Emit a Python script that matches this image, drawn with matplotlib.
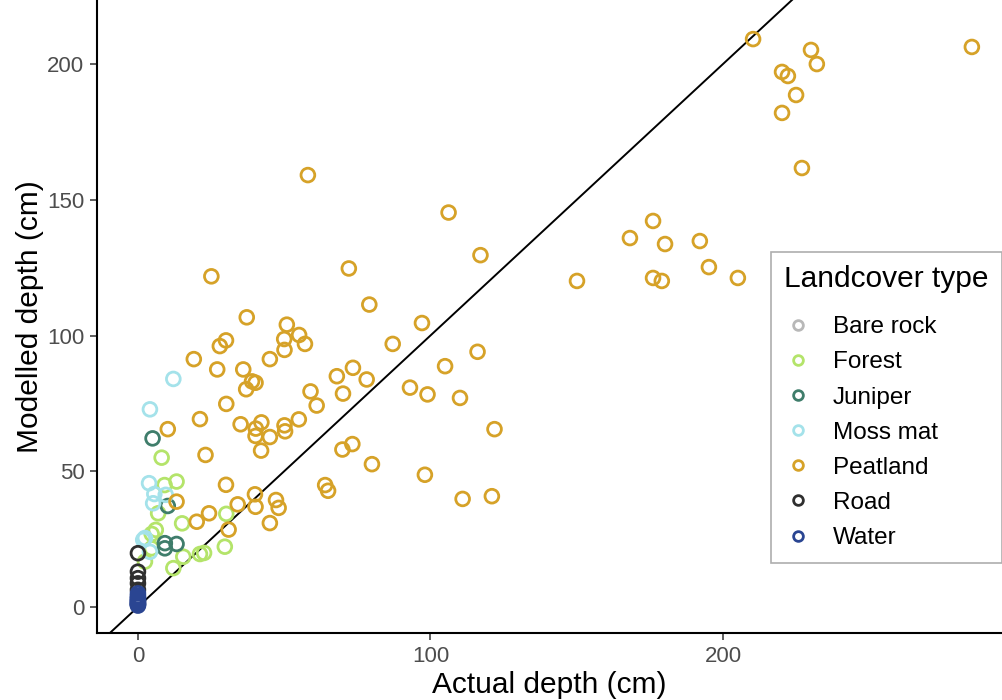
import matplotlib
matplotlib.use("Agg")
import matplotlib.pyplot as plt
from matplotlib.lines import Line2D

plt.rcParams['font.family'] = ['Liberation Sans', 'DejaVu Sans']

# actual vs modelled peat depth (cm), by landcover class
peat_actual = [210.3, 230.1, 232.1, 220.2, 222.2, 225.0, 220.2, 227.0, 285.1,
               176.1, 168.2, 180.2, 192.1, 195.2, 176.1, 179.1, 205.1, 150.1,
               58.1, 106.2, 117.1, 25.1, 72.1, 79.1, 37.2, 97.1, 50.9, 55.1,
               30.1, 28.0, 57.1, 50.0, 50.1, 19.1, 45.1, 87.1, 27.1, 36.0,
               39.0, 40.2, 37.0, 59.0, 61.1, 68.0, 73.5, 78.2, 70.1, 105.0,
               116.1, 93.0, 99.0, 110.1, 121.9, 30.2, 21.2, 35.1, 42.2, 40.3,
               40.2, 45.1, 50.1, 50.3, 55.0, 42.1, 23.1, 10.2, 69.9, 73.3,
               80.0, 98.1, 64.0, 65.0, 30.1, 40.0, 47.2, 48.1, 40.2, 34.1,
               24.3, 20.1, 31.0, 45.1, 111.0, 121.0, 13.2]
peat_model = [209.2, 205.2, 200.0, 197.1, 195.6, 188.6, 182.0, 161.7, 206.3,
              142.2, 135.9, 133.7, 134.8, 125.2, 121.2, 120.1, 121.2, 120.1,
              159.1, 145.3, 129.6, 121.8, 124.7, 111.4, 106.7, 104.6, 104.0, 100.2,
              98.2, 96.1, 96.9, 98.7, 94.7, 91.3, 91.3, 96.9, 87.5, 87.5,
              83.1, 82.6, 80.2, 79.4, 74.2, 85.0, 88.1, 83.8, 78.6, 88.7,
              94.0, 80.8, 78.3, 77.0, 65.5, 74.8, 69.2, 67.3, 68.0, 65.7,
              63.0, 62.6, 66.9, 64.7, 69.1, 57.6, 56.0, 65.5, 58.0, 60.0,
              52.6, 48.7, 44.9, 42.8, 45.0, 41.5, 39.4, 36.5, 36.9, 37.8,
              34.5, 31.4, 28.5, 30.9, 39.8, 40.8, 38.8]

forest_actual = [8.1, 9.1, 13.2, 6.9, 6.1, 4.7, 15.1, 30.2, 29.7, 21.2, 22.6,
                 15.5, 12.1, 4.7, 2.4]
forest_model = [55.0, 44.9, 46.2, 34.5, 28.4, 26.9, 30.8, 34.3, 22.2, 19.5, 19.9,
                18.5, 14.3, 21.6, 16.7]

juniper_actual = [5.0, 10.2, 9.2, 13.2, 9.2]
juniper_model = [62.1, 37.2, 23.5, 23.2, 21.6]

moss_actual = [12.1, 4.1, 3.8, 5.6, 9.5, 5.2, 2.4, 1.8, 4.1]
moss_model = [84.0, 72.8, 45.6, 41.6, 41.3, 38.2, 25.4, 24.7, 20.3]

road_actual = [0, 0, 0, 0, 0]
road_model = [19.8, 13.0, 10.6, 8.7, 6.3]

water_actual = [0, 0, 0, 0, 0, 0, 0, 0, 0, 0, 0, 0]
water_model = [0.5, 0.8, 1.0, 1.2, 1.5, 2.0, 2.2, 2.5, 3.0, 3.5, 4.0, 5.0]

rock_actual = [0]
rock_model = [1.0]

classes = ['Bare rock', 'Forest', 'Juniper', 'Moss mat', 'Peatland', 'Road', 'Water']
colours = ['#b8b8b8', '#b4e46a', '#3f7d6b', '#a4e2ea', '#d6a228', '#2f2f2f', '#2a4592']
series = [(rock_actual, rock_model), (forest_actual, forest_model),
          (juniper_actual, juniper_model), (moss_actual, moss_model),
          (peat_actual, peat_model), (road_actual, road_model),
          (water_actual, water_model)]

fig = plt.figure(figsize=(10.02, 7.0), dpi=100)
ax = fig.add_axes([0.0968, 0.0957, 0.9032, 0.9043])

for (xs, ys), c in zip(series, colours):
    ax.scatter(xs, ys, s=98, facecolors='none', edgecolors=c, linewidths=2.0, zorder=3)

# 1:1 reference line
ax.axline((0, 0), slope=1, color='black', lw=1.4, zorder=2)

ax.set_xlim(-14.0, 295.4)
ax.set_ylim(-9.6, 223.6)
ax.set_xticks([0, 100, 200])
ax.set_yticks([0, 50, 100, 150, 200])
for side in ['top', 'right']:
    ax.spines[side].set_visible(False)
for side in ['left', 'bottom']:
    ax.spines[side].set_linewidth(1.5)
ax.tick_params(axis='both', length=5, width=1.1, color='#333333',
               labelsize=16, labelcolor='#4d4d4d', pad=4)

ax.set_xlabel('Actual depth (cm)', fontsize=21.5, labelpad=3)
ax.set_ylabel('Modelled depth (cm)', fontsize=21.5, labelpad=2)

handles = [Line2D([], [], ls='none', marker='o', markersize=7, markerfacecolor='none',
                  markeredgecolor=c, markeredgewidth=2.0) for c in colours]
leg = fig.legend(handles, classes, title='Landcover type', loc='upper left',
                 bbox_to_anchor=(0.769, 0.640), borderaxespad=0, frameon=True,
                 fancybox=False, fontsize=17.5, title_fontsize=21.5, labelspacing=0.54,
                 handletextpad=0.8, handlelength=1.2, borderpad=0.55)
leg.get_frame().set_edgecolor('#9a9a9a')
leg.get_frame().set_linewidth(1.2)
leg._legend_box.align = 'left'
leg._legend_box.sep = 16.5

fig.savefig('out.png', dpi=100)
